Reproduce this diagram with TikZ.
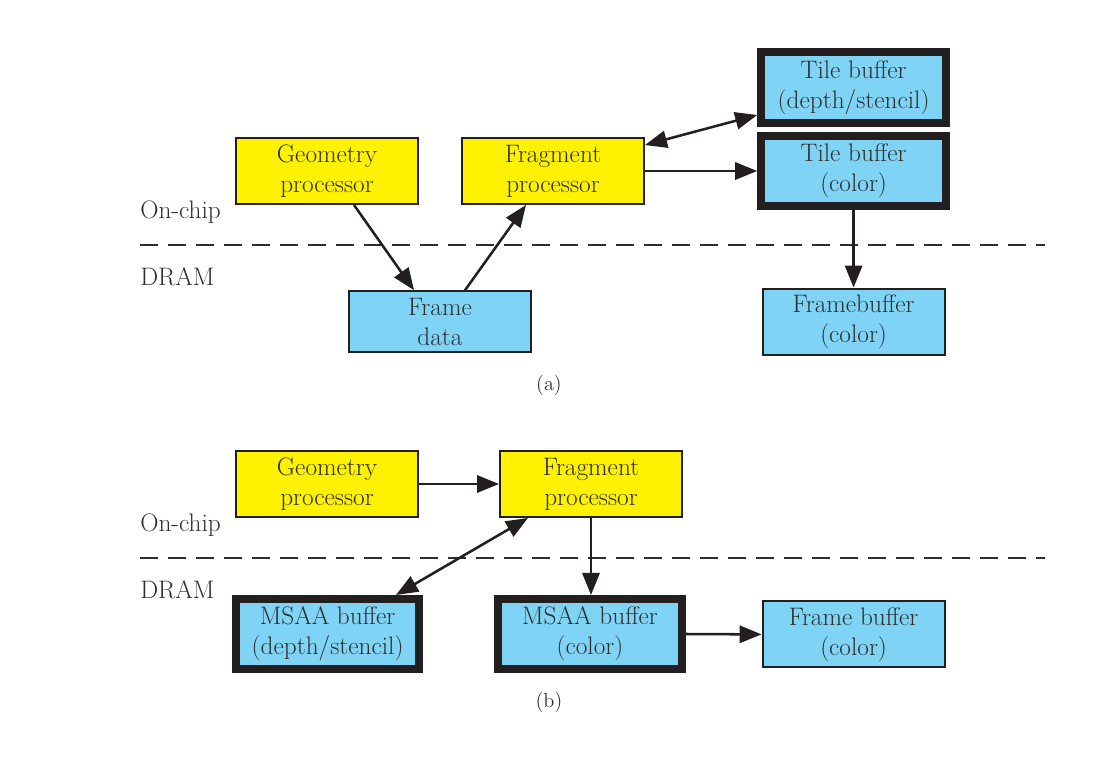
\documentclass[tikz,border=0pt]{standalone}
\usepackage{tikz}
\usetikzlibrary{arrows.meta}
\definecolor{chipyellow}{HTML}{FFF200}
\definecolor{drambblue}{HTML}{7FD4F6}
\definecolor{inkgray}{HTML}{231F20}
\definecolor{labelgray}{HTML}{2E2E2E}

\begin{document}
\begin{tikzpicture}[>={Triangle[length=5.5mm,width=4.3mm]},
    txt/.style={font=\fontsize{18}{21.5}\selectfont, text=labelgray, align=center},
    proc/.style={txt, draw=inkgray, line width=1.4pt, fill=chipyellow, minimum width=4.55cm, minimum height=1.65cm},
    mem/.style={txt, draw=inkgray, line width=1.4pt, fill=drambblue, minimum width=4.55cm, minimum height=1.65cm},
    tilemem/.style={mem, line width=5.7pt, minimum width=4.62cm, minimum height=1.77cm},
    flow/.style={->, draw=inkgray, line width=1.8pt},
    sep/.style={draw=labelgray, line width=1.4pt, dash pattern=on 4.5mm off 2.5mm},
    side/.style={txt, anchor=west, inner sep=0pt}]
  \useasboundingbox (0,0) rectangle (27.525,-19.05);

  \node[proc] (geoA) at (8.175,-4.275) {Geometry\\processor};
  \node[proc] (fragA) at (13.825,-4.275) {Fragment\\processor};
  \node[tilemem] (tileD) at (21.34,-2.19) {Tile buffer\\(depth/stencil)};
  \node[tilemem] (tileC) at (21.34,-4.275) {Tile buffer\\(color)};
  \node[mem] (fbA) at (21.34,-8.04) {Framebuffer\\(color)};
  \node[mem, minimum height=1.52cm] (frameData) at (11.0,-8.04) {Frame\\data};
  \node[side] (chipA) at (3.5,-5.3) {On-chip};
  \node[side] (dramA) at (3.5,-6.925) {DRAM};
  \node[txt, font=\fontsize{14.5}{17}\selectfont] (capA) at (13.725,-9.625) {(a)};
  \coordinate (sepAl) at (3.5,-6.125);
  \coordinate (sepAr) at (26.125,-6.125);
  \draw[sep] (sepAl) -- (sepAr);

  \draw[flow] ([xshift=0.675cm]geoA.south) -- ([xshift=-0.65cm]frameData.north);
  \draw[flow] ([xshift=0.625cm]frameData.north) -- ([xshift=-0.675cm]fragA.south);
  \draw[flow, <->] ([yshift=-0.2cm]fragA.north east) -- ([yshift=0.3cm]tileD.south west);
  \draw[flow] (fragA.east) -- (tileC.west);
  \draw[flow] (tileC.south) -- (fbA.north);

  \node[proc] (geoB) at (8.175,-12.1) {Geometry\\processor};
  \node[proc] (fragB) at (14.775,-12.1) {Fragment\\processor};
  \node[tilemem, minimum width=4.58cm, minimum height=1.75cm] (msaaD) at (8.19,-15.85) {MSAA buffer\\(depth/stencil)};
  \node[tilemem, minimum width=4.6cm, minimum height=1.75cm] (msaaC) at (14.75,-15.85) {MSAA buffer\\(color)};
  \node[mem] (fbB) at (21.34,-15.86) {Frame buffer\\(color)};
  \node[side] (chipB) at (3.5,-13.125) {On-chip};
  \node[side] (dramB) at (3.5,-14.75) {DRAM};
  \node[txt, font=\fontsize{14.5}{17}\selectfont] (capB) at (13.725,-17.55) {(b)};
  \coordinate (sepBl) at (3.5,-13.95);
  \coordinate (sepBr) at (26.125,-13.95);
  \draw[sep] (sepBl) -- (sepBr);

  \draw[flow] (geoB.east) -- (fragB.west);
  \draw[flow, <->] ([xshift=-1.575cm]fragB.south) -- ([xshift=1.71cm]msaaD.north);
  \draw[flow] (fragB.south) -- (fragB.south |- msaaC.north);
  \draw[flow] (msaaC.east) -- (fbB.west);
\end{tikzpicture}
\end{document}
